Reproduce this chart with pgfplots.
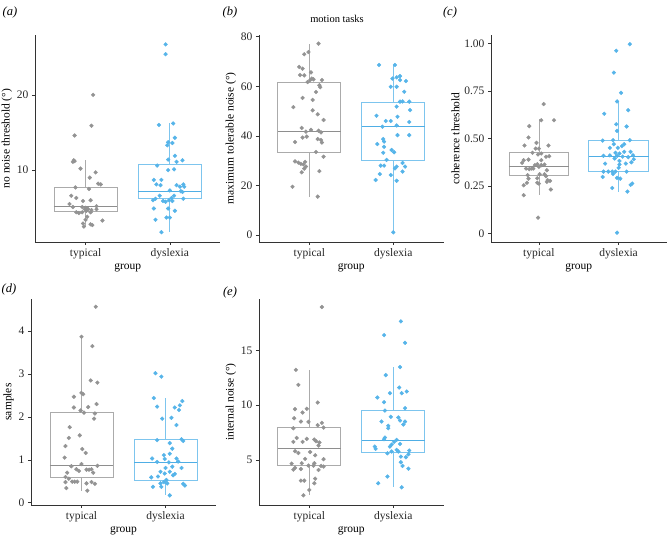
\documentclass[border=0pt]{standalone}
\usepackage{fontspec}
\setmainfont{Liberation Serif}
\usepackage{pgfplots}
\pgfplotsset{compat=1.18}
\usepgfplotslibrary{statistics}

\definecolor{gpt}{HTML}{939393}
\definecolor{gbox}{HTML}{ABABAB}
\definecolor{gmed}{HTML}{8E8E8E}
\definecolor{bpt}{HTML}{56B4E9}
\definecolor{bbox}{HTML}{7DC5EE}
\definecolor{bmed}{HTML}{4FAEE5}
\definecolor{axcol}{HTML}{333333}

\pgfplotsset{
  panel/.style={
    scale only axis, anchor=south west,
    xmin=0.4, xmax=2.6,
    axis x line*=bottom, axis y line*=left,
    axis line style={axcol, line width=0.6pt, -},
    xtick={1,2}, xticklabels={typical,dyslexia},
    tick align=outside, major tick length=3pt,
    tick style={axcol, line width=0.5pt},
    ticklabel style={font=\fontsize{11.5}{13}\selectfont, text=black!85},
    label style={font=\fontsize{11.5}{13}\selectfont},
    xlabel={group},
    xlabel style={yshift=2pt},
    ylabel style={yshift=-2pt},
    /pgf/number format/assume math mode=true,
    scaled y ticks=false,
    boxplot/draw direction=y,
    clip=false,
  },
  gbx/.style={draw=gbox, line width=0.7pt, boxplot/every median/.style={draw=gmed, line width=1.1pt}},
  bbx/.style={draw=bbox, line width=0.7pt, boxplot/every median/.style={draw=bmed, line width=1.1pt}},
  gpts/.style={only marks, mark=*, mark size=1.9pt, color=gpt},
  bpts/.style={only marks, mark=*, mark size=1.9pt, color=bpt},
}

\begin{document}
\begin{tikzpicture}
\tikzset{lab/.style={font=\fontsize{12.5}{14}\selectfont\itshape}}

% ---------------- (a)
\begin{axis}[panel, at={(35pt,294pt)}, width=185.4pt, height=207pt,
  ymin=0.45, ymax=27.95, ytick={10,20},
  ylabel={no noise threshold (°)}]
\addplot[gbx, boxplot prepared={draw position=1, box extend=0.75, whisker extend=0,
  lower whisker=2.5, lower quartile=4.53, median=5.2, upper quartile=7.77, upper whisker=11.3}] coordinates {};
\addplot[bbx, boxplot prepared={draw position=2, box extend=0.75, whisker extend=0,
  lower whisker=1.75, lower quartile=6.23, median=7.1, upper quartile=10.7, upper whisker=16.2}] coordinates {};
\addplot[gpts] coordinates {
(1.09,20.0)(1.07,15.9)(0.87,14.6)(0.86,11.3)(0.87,11.2)(0.85,11.1)(0.94,10.2)(1.12,9.7)(1.05,9.0)
(1.15,8.2)(1.18,8.1)(0.88,7.7)(1.04,7.5)(0.83,6.6)(0.89,6.3)(0.97,5.9)(1.06,6.0)(0.81,5.5)(0.85,5.1)
(0.96,5.1)(1.00,5.0)(1.02,4.9)(1.03,4.8)(0.99,4.8)(1.01,4.6)(1.13,5.2)(1.07,4.7)(1.13,4.8)(0.89,4.4)
(0.92,4.3)(0.96,4.4)(1.06,4.4)(1.02,3.8)(1.00,3.4)(1.20,3.3)(0.97,2.9)(1.06,2.8)(1.08,2.7)(0.98,2.5)
};
\addplot[bpts] coordinates {
(1.95,26.7)(1.95,25.4)(1.87,16.0)(2.04,16.2)(2.06,14.3)(1.98,13.7)(2.03,13.6)(1.97,13.3)(2.06,11.9)
(1.98,11.4)(2.08,11.1)(2.15,11.3)(1.85,10.6)(1.98,10.0)(2.05,10.1)(1.81,8.7)(1.90,8.7)(1.84,8.1)
(1.89,8.0)(2.08,8.0)(2.12,7.8)(2.16,8.1)(2.17,7.8)(2.00,7.3)(2.13,7.2)(2.15,7.1)(2.05,6.6)(2.02,6.3)
(2.16,6.2)(1.88,6.6)(1.83,6.2)(1.80,6.0)(1.92,5.9)(1.95,5.8)(1.99,6.0)(2.03,5.9)(1.81,4.9)(1.98,4.9)
(2.06,4.6)(1.83,3.4)(1.96,3.7)(2.00,3.7)(1.90,1.75)
};
\end{axis}

% ---------------- (b)
\begin{axis}[panel, at={(258.9pt,294pt)}, width=184.8pt, height=207.3pt,
  ymin=-2.8, ymax=80.8, ytick={0,20,40,60,80},
  ylabel={maximum tolerable noise (°)}]
\addplot[gbx, boxplot prepared={draw position=1, box extend=0.75, whisker extend=0,
  lower whisker=15.5, lower quartile=33.2, median=41.7, upper quartile=61.6, upper whisker=77.2}] coordinates {};
\addplot[bbx, boxplot prepared={draw position=2, box extend=0.75, whisker extend=0,
  lower whisker=1.1, lower quartile=30.0, median=43.7, upper quartile=53.5, upper whisker=68.6}] coordinates {};
\addplot[gpts] coordinates {
(1.11,77.2)(0.99,73.8)(0.94,72.9)(0.88,67.8)(0.92,67.1)(1.02,65.6)(0.89,64.5)(0.94,64.4)(1.03,63.1)
(1.05,62.8)(1.01,62.5)(1.15,62.5)(0.98,61.7)(1.12,60.4)(1.13,59.6)(1.08,57.7)(0.92,55.3)(1.04,54.5)
(0.81,51.6)(1.04,50.3)(1.10,48.7)(1.17,46.4)(0.91,43.2)(1.02,42.4)(0.96,41.7)(1.11,42.1)(1.14,41.4)
(0.97,39.7)(0.92,39.3)(1.10,38.7)(1.14,38.3)(1.15,37.3)(0.83,37.5)(1.08,33.5)(1.17,31.6)(0.83,29.7)
(0.87,29.2)(0.95,29.5)(0.90,28.7)(0.93,28.5)(0.96,27.6)(0.94,26.8)(0.91,25.3)(1.12,25.8)(0.80,19.5)
(1.10,15.5)
};
\addplot[bpts] coordinates {
(1.83,68.6)(2.02,68.6)(2.08,64.1)(2.04,63.6)(1.99,63.1)(2.08,62.5)(2.15,62.1)(1.97,59.8)(2.04,59.8)
(2.13,57.8)(2.08,53.8)(2.11,53.9)(2.19,53.8)(2.04,51.8)(2.20,50.4)(1.80,48.1)(2.05,47.7)(1.91,46.0)
(1.97,46.0)(2.19,45.6)(2.04,44.2)(1.87,43.7)(2.05,40.3)(2.19,40.3)(1.81,36.7)(1.88,38.7)(1.89,37.7)
(1.89,35.6)(1.98,34.3)(2.01,33.4)(1.88,33.2)(1.92,30.3)(2.11,29.1)(1.85,28.0)(1.89,28.0)(2.04,27.6)
(2.14,27.6)(2.02,26.9)(1.84,24.6)(1.97,24.2)(2.11,25.6)(1.79,22.2)(2.04,21.9)(2.00,1.1)
};
\end{axis}

% ---------------- (c)
\begin{axis}[panel, at={(491pt,294pt)}, width=175.5pt, height=207pt,
  ymin=-0.044, ymax=1.044, ytick={0,0.25,0.5,0.75,1}, yticklabels={0,0.25,0.50,0.75,1.00},
  ylabel={coherence threshold}]
\addplot[gbx, boxplot prepared={draw position=1, box extend=0.75, whisker extend=0,
  lower whisker=0.202, lower quartile=0.307, median=0.354, upper quartile=0.425, upper whisker=0.60}] coordinates {};
\addplot[bbx, boxplot prepared={draw position=2, box extend=0.75, whisker extend=0,
  lower whisker=0.221, lower quartile=0.325, median=0.404, upper quartile=0.488, upper whisker=0.695}] coordinates {};
\addplot[gpts] coordinates {
(1.06,0.681)(1.03,0.596)(1.19,0.596)(0.88,0.565)(0.87,0.505)(0.82,0.463)(0.97,0.477)(1.12,0.463)
(0.96,0.447)(1.00,0.447)(0.92,0.425)(1.03,0.421)(0.99,0.416)(1.09,0.404)(1.13,0.407)(0.81,0.386)
(1.03,0.386)(0.87,0.389)(0.79,0.372)(0.98,0.365)(0.95,0.360)(1.03,0.360)(1.07,0.363)(0.84,0.342)
(0.91,0.342)(0.88,0.339)(0.93,0.342)(1.00,0.351)(1.10,0.333)(0.86,0.307)(1.01,0.312)(1.07,0.312)
(1.09,0.302)(1.11,0.281)(0.87,0.289)(0.98,0.291)(0.85,0.267)(0.98,0.267)(1.10,0.272)(1.14,0.277)
(0.81,0.254)(1.00,0.263)(1.15,0.232)(0.81,0.202)(0.99,0.084)
};
\addplot[bpts] coordinates {
(2.14,0.996)(1.97,0.961)(1.94,0.846)(2.03,0.740)(1.98,0.695)(2.12,0.649)(1.82,0.630)(1.97,0.575)
(2.10,0.563)(1.98,0.540)(1.80,0.489)(1.93,0.491)(2.14,0.491)(1.94,0.470)(2.07,0.470)(2.04,0.460)
(1.99,0.451)(1.89,0.451)(2.07,0.430)(1.96,0.425)(2.15,0.430)(2.01,0.421)(2.18,0.412)(1.81,0.409)
(1.89,0.411)(1.98,0.409)(2.05,0.405)(2.12,0.402)(1.95,0.395)(2.01,0.382)(2.19,0.391)(2.16,0.375)
(2.01,0.363)(1.83,0.368)(2.09,0.368)(2.00,0.346)(1.81,0.326)(1.87,0.326)(1.92,0.326)(1.96,0.326)
(2.10,0.326)(1.93,0.314)(1.80,0.298)(1.98,0.293)(2.02,0.289)(2.15,0.256)(2.17,0.263)(1.92,0.240)
(2.11,0.221)(1.98,0.005)
};
\end{axis}

% ---------------- (d)
\begin{axis}[panel, at={(31pt,31pt)}, width=185pt, height=206pt,
  ymin=-0.054, ymax=4.75, ytick={0,1,2,3,4},
  ylabel={samples}]
\addplot[gbx, boxplot prepared={draw position=1, box extend=0.75, whisker extend=0,
  lower whisker=0.28, lower quartile=0.58, median=0.86, upper quartile=2.11, upper whisker=3.87}] coordinates {};
\addplot[bbx, boxplot prepared={draw position=2, box extend=0.75, whisker extend=0,
  lower whisker=0.17, lower quartile=0.51, median=0.94, upper quartile=1.47, upper whisker=2.44}] coordinates {};
\addplot[gpts] coordinates {
(1.17,4.57)(1.00,3.87)(1.13,3.65)(1.11,2.85)(1.19,2.80)(1.00,2.56)(1.02,2.53)(0.91,2.47)(1.18,2.30)
(0.91,2.22)(1.08,2.23)(0.99,2.15)(1.03,2.10)(1.16,2.08)(1.15,1.96)(0.86,1.76)(0.85,1.51)(0.98,1.57)
(0.81,1.32)(1.01,1.25)(1.05,1.16)(0.80,1.05)(0.88,0.85)(1.00,0.90)(1.19,0.86)(0.94,0.78)(0.97,0.74)
(1.06,0.77)(1.09,0.77)(1.12,0.78)(0.83,0.70)(1.14,0.70)(0.81,0.60)(0.85,0.56)(0.89,0.49)(0.92,0.49)
(0.95,0.49)(1.12,0.48)(0.81,0.48)(1.06,0.45)(1.16,0.44)(0.82,0.34)(1.07,0.28)
};
\addplot[bpts] coordinates {
(1.88,3.02)(1.95,2.94)(1.86,2.44)(2.20,2.37)(1.90,2.24)(2.11,2.22)(2.17,2.27)(2.16,2.16)(1.96,1.96)
(2.07,1.98)(2.13,1.81)(1.90,1.46)(2.19,1.48)(2.21,1.44)(2.05,1.39)(2.08,1.26)(2.05,1.14)(1.84,1.03)
(1.99,1.02)(1.98,1.11)(2.13,1.03)(1.90,0.95)(2.04,0.94)(2.15,0.96)(2.00,0.81)(2.19,0.81)(2.08,0.84)
(1.94,0.72)(1.99,0.68)(2.05,0.72)(2.11,0.67)(1.83,0.59)(1.91,0.61)(2.09,0.64)(2.01,0.53)(1.98,0.48)
(2.02,0.45)(1.94,0.45)(2.21,0.44)(2.23,0.40)(1.85,0.37)(1.95,0.37)(2.05,0.17)
};
\end{axis}

% ---------------- (e)
\begin{axis}[panel, at={(258.9pt,31pt)}, width=184.8pt, height=206pt,
  ymin=0.91, ymax=19.67, ytick={5,10,15},
  ylabel={internal noise (°)}]
\addplot[gbx, boxplot prepared={draw position=1, box extend=0.75, whisker extend=0,
  lower whisker=1.79, lower quartile=4.50, median=6.05, upper quartile=8.02, upper whisker=13.22}] coordinates {};
\addplot[bbx, boxplot prepared={draw position=2, box extend=0.75, whisker extend=0,
  lower whisker=2.52, lower quartile=5.74, median=6.81, upper quartile=9.57, upper whisker=13.47}] coordinates {};
\addplot[gpts] coordinates {
(1.15,18.94)(0.84,13.22)(0.87,11.85)(1.10,10.24)(0.83,9.64)(0.97,9.67)(0.92,9.33)(0.82,8.81)(0.90,8.51)
(0.99,8.48)(1.15,8.39)(1.10,8.18)(1.17,7.96)(0.81,7.90)(0.85,7.02)(0.97,6.93)(1.06,6.87)(1.08,6.72)
(0.81,6.66)(0.92,6.66)(1.12,6.60)(1.11,6.32)(0.83,5.81)(0.87,5.65)(1.01,5.74)(1.07,5.44)(0.95,5.11)
(1.17,5.08)(0.79,4.68)(0.91,4.71)(1.06,4.71)(0.99,4.50)(1.05,4.50)(1.14,4.47)(1.17,4.41)(0.83,4.29)
(0.81,4.13)(0.90,4.19)(1.11,4.10)(1.07,3.31)(0.90,3.13)(0.94,3.13)(1.06,2.89)(1.00,2.28)(0.93,1.79)
};
\addplot[bpts] coordinates {
(2.09,17.63)(1.89,16.38)(2.14,15.68)(2.08,13.47)(1.91,12.74)(2.07,11.61)(2.16,11.25)(1.96,11.09)
(2.10,11.09)(1.81,10.70)(1.89,10.27)(2.14,9.73)(1.90,9.51)(1.97,8.94)(2.06,8.88)(2.08,8.60)(1.86,8.51)
(2.14,8.51)(2.12,8.24)(1.94,8.12)(1.94,7.90)(1.90,7.05)(1.89,6.90)(2.04,6.84)(2.01,6.66)(1.78,6.23)
(1.79,6.02)(1.96,6.23)(1.98,6.41)(2.08,6.47)(2.04,5.93)(1.98,5.78)(2.06,5.78)(2.19,5.87)(1.93,5.62)
(2.15,5.26)(2.09,5.32)(2.18,5.53)(2.09,4.80)(2.11,4.47)(2.18,4.22)(1.82,2.89)(1.93,3.50)(2.10,2.52)
};
\end{axis}

% panel letters and title
\node[lab] at (10pt,524pt) {(a)};
\node[lab] at (230pt,524pt) {(b)};
\node[lab] at (450pt,524pt) {(c)};
\node[lab] at (9pt,247pt) {(d)};
\node[lab] at (230pt,244pt) {(e)};
\node[font=\fontsize{10.5}{12}\selectfont] at (337pt,517pt) {motion tasks};

\pgfresetboundingbox
\useasboundingbox (0,0) rectangle (667pt,536pt);
\end{tikzpicture}
\end{document}
